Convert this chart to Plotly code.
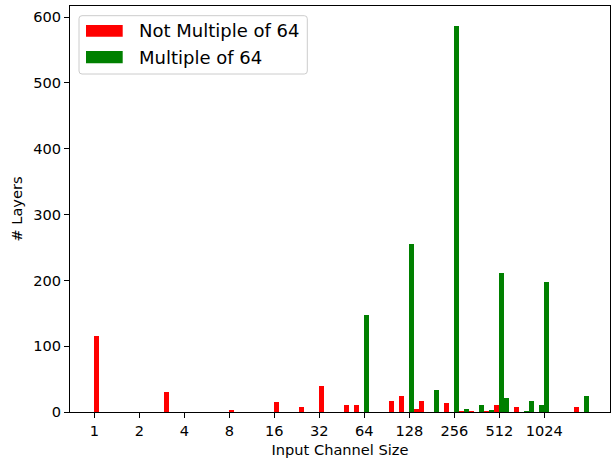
import numpy as np
import plotly.graph_objects as go

# Histogram bins on a log2 scale of input channel size (bin width = 1/9 of an octave)
BIN_WIDTH = 1.0 / 9.0

red_bin_index = [0, 14, 27, 36, 41, 45, 50, 52, 59, 61, 64, 65, 70, 73, 75, 78, 80, 84, 96]
red_counts = [116, 31, 3, 15, 8, 40, 10, 11, 16, 25, 5, 17, 13, 2, 2, 2, 10, 8, 7]

green_bin_index = [54, 63, 68, 72, 74, 77, 79, 81, 82, 86, 87, 89, 90, 98]
green_counts = [147, 255, 33, 586, 5, 10, 3, 212, 22, 2, 17, 11, 197, 25]

tick_sizes = [1, 2, 4, 8, 16, 32, 64, 128, 256, 512, 1024]
tick_labels = [str(v) for v in tick_sizes]

red_x = [i * BIN_WIDTH for i in red_bin_index]
green_x = [i * BIN_WIDTH for i in green_bin_index]

FONT = "DejaVu Sans"
W, H = 612, 461
ML, MR, MT, MB = 70, 2, 6, 49
PW, PH = W - ML - MR, H - MT - MB

fig = go.Figure()
fig.add_trace(go.Bar(x=red_x, y=red_counts, width=BIN_WIDTH, offset=0,
                     marker=dict(color="#ff0000", line=dict(width=0)),
                     name="Not Multiple of 64", showlegend=False))
fig.add_trace(go.Bar(x=green_x, y=green_counts, width=BIN_WIDTH, offset=0,
                     marker=dict(color="#008000", line=dict(width=0)),
                     name="Multiple of 64", showlegend=False))


def px(x):
    return (x - ML) / PW


def py(y):
    return (MT + PH - y) / PH


# Manual legend (matplotlib style)
x0, x1, y0, y1 = px(79), px(307.3), py(15.7), py(74)
rx, ry = 3 / PW, 3 / PH
path = (f"M {x0+rx},{y0} L {x1-rx},{y0} Q {x1},{y0} {x1},{y0-ry} "
        f"L {x1},{y1+ry} Q {x1},{y1} {x1-rx},{y1} L {x0+rx},{y1} "
        f"Q {x0},{y1} {x0},{y1+ry} L {x0},{y0-ry} Q {x0},{y0} {x0+rx},{y0} Z")
shapes = [
    dict(type="path", xref="paper", yref="paper", path=path,
         line=dict(color="#cccccc", width=1), fillcolor="rgba(255,255,255,0.8)"),
    dict(type="rect", xref="paper", yref="paper", x0=px(86), x1=px(122.7),
         y0=py(25), y1=py(36.7), line=dict(width=0), fillcolor="#ff0000"),
    dict(type="rect", xref="paper", yref="paper", x0=px(86), x1=px(122.7),
         y0=py(51), y1=py(63.3), line=dict(width=0), fillcolor="#008000"),
]
annotations = [
    dict(xref="paper", yref="paper", x=px(137), y=py(31), text="Not Multiple of 64",
         showarrow=False, xanchor="left", yanchor="middle",
         font=dict(family=FONT, size=18, color="black")),
    dict(xref="paper", yref="paper", x=px(137), y=py(57.5), text="Multiple of 64",
         showarrow=False, xanchor="left", yanchor="middle",
         font=dict(family=FONT, size=18, color="black")),
]

fig.update_layout(
    width=W, height=H,
    margin=dict(l=ML, r=MR, t=MT, b=MB, pad=0),
    paper_bgcolor="white", plot_bgcolor="white",
    barmode="overlay", bargap=0,
    font=dict(family=FONT, size=14.6, color="black"),
    shapes=shapes, annotations=annotations,
    showlegend=False,
)
fig.update_xaxes(
    range=[-0.54, 11.46],
    tickmode="array",
    tickvals=[np.log2(v) for v in tick_sizes],
    ticktext=tick_labels,
    ticks="outside", ticklen=5, tickwidth=1, tickcolor="black",
    showline=True, linecolor="black", linewidth=1, mirror=True,
    showgrid=False, zeroline=False,
    title=dict(text="Input Channel Size", standoff=7,
               font=dict(family=FONT, size=14.6)),
    tickfont=dict(family=FONT, size=14.6),
)
fig.update_yaxes(
    range=[0, 617],
    tickmode="array", tickvals=[0, 100, 200, 300, 400, 500, 600],
    ticks="outside", ticklen=5, tickwidth=1, tickcolor="black",
    showline=True, linecolor="black", linewidth=1, mirror=True,
    showgrid=False, zeroline=False,
    title=dict(text="# Layers", standoff=7, font=dict(family=FONT, size=14.6)),
    tickfont=dict(family=FONT, size=14.6),
)

fig.write_html("out.html",
               config={"displayModeBar": False, "staticPlot": True},
               post_script="document.body.style.margin='0px';document.body.style.overflow='hidden';")
